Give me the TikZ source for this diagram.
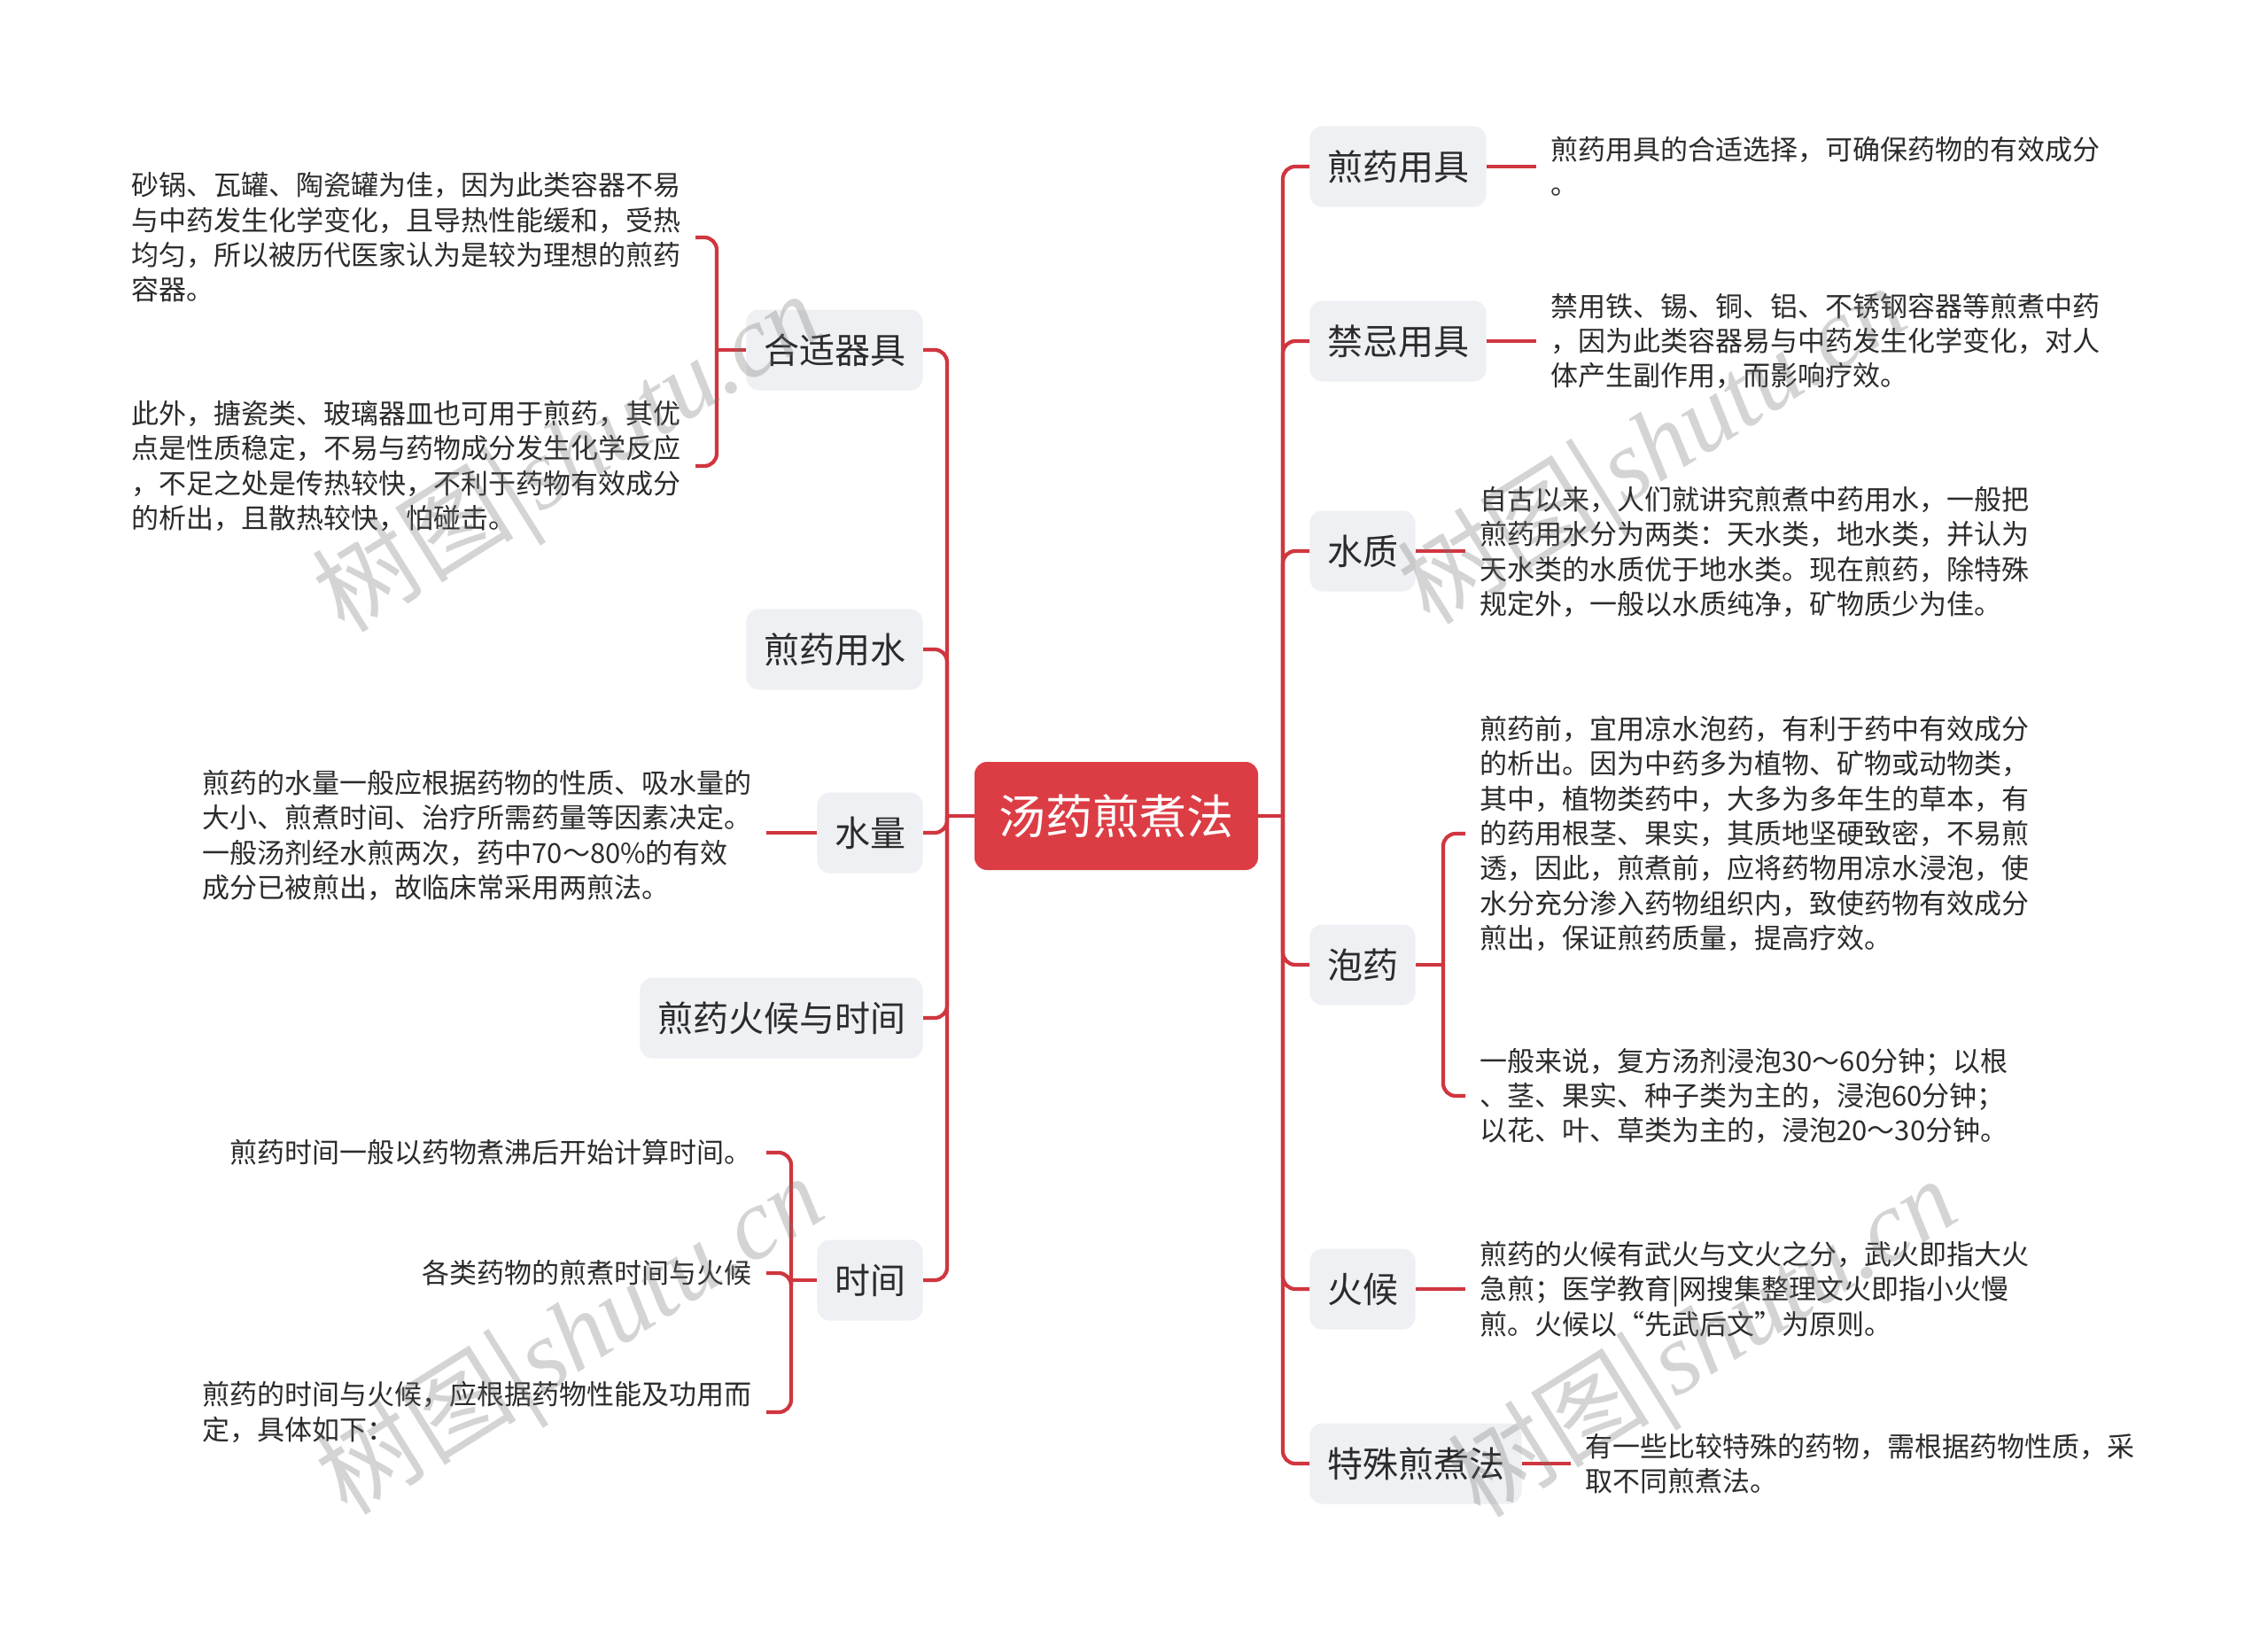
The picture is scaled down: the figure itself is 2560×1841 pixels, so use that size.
\documentclass[tikz,border=0pt]{standalone}
\usepackage{fontspec}
\setmainfont{Noto Sans CJK SC}
\newfontfamily\wmfont{Liberation Serif}
\usetikzlibrary{positioning}
\definecolor{linkred}{HTML}{D0363F}
\definecolor{rootred}{HTML}{DC3D45}
\definecolor{topicgray}{HTML}{EEF0F3}
\definecolor{txtgray}{HTML}{2B2B2B}
\tikzset{
	root/.style={rounded corners=7pt, fill=rootred, text=white, font=\fontsize{26.5pt}{30pt}\selectfont, minimum width=160pt, minimum height=61pt, inner sep=0pt},
	topic/.style={rounded corners=7pt, fill=topicgray, text=txtgray, font=\fontsize{20pt}{24pt}\selectfont, minimum height=45.5pt, inner xsep=9.8pt, inner ysep=0pt},
	leaf/.style={align=left, text=txtgray, font=\fontsize{15.5pt}{19.7pt}\selectfont, inner xsep=8pt, inner ysep=0pt},
	link/.style={draw=linkred, line width=2.1pt, rounded corners=7pt},
	wm/.style={text=black!55, opacity=0.3, rotate=32, font=\fontsize{57pt}{57pt}\selectfont},
}

\begin{document}
\begin{tikzpicture}[x=0.5pt, y=-0.5pt]
	\useasboundingbox[fill=white] (0,0) rectangle (2560,1841);
	\node[root] (root) at (1260,921) {汤药煎煮法};
	\coordinate (lj) at (1069,921);
	\coordinate (rj) at (1448,921);

	% left topics
	\begin{scope}[every node/.style={topic, anchor=east}]
		\node (hsqj) at (1042,395) {合适器具};
		\node (jyys) at (1042,733) {煎药用水};
		\node (sl) at (1042,940) {水量};
		\node (hhsj) at (1042,1149) {煎药火候与时间};
		\node (sj) at (1042,1445) {时间};
	\end{scope}
	% right topics
	\begin{scope}[every node/.style={topic, anchor=west}]
		\node (jyyj) at (1478,188) {煎药用具};
		\node (jjyj) at (1478,385) {禁忌用具};
		\node (sz) at (1478,622) {水质};
		\node (py) at (1478,1089) {泡药};
		\node (hh) at (1478,1455) {火候};
		\node (tsjz) at (1478,1652) {特殊煎煮法};
	\end{scope}

	% left leaves
	\begin{scope}[every node/.style={leaf, anchor=east}]
		\node (hs1) at (785,268) {砂锅、瓦罐、陶瓷罐为佳，因为此类容器不易\\与中药发生化学变化，且导热性能缓和，受热\\均匀，所以被历代医家认为是较为理想的煎药\\容器。};
		\node (hs2) at (785,526) {此外，搪瓷类、玻璃器皿也可用于煎药，其优\\点是性质稳定，不易与药物成分发生化学反应\\，不足之处是传热较快，不利于药物有效成分\\的析出，且散热较快，怕碰击。};
		\node (sl1) at (865,943) {煎药的水量一般应根据药物的性质、吸水量的\\大小、煎煮时间、治疗所需药量等因素决定。\\一般汤剂经水煎两次，药中70～80\%的有效\\成分已被煎出，故临床常采用两煎法。};
		\node (sj1) at (865,1301) {煎药时间一般以药物煮沸后开始计算时间。};
		\node (sj2) at (865,1437) {各类药物的煎煮时间与火候};
		\node (sj3) at (865,1594) {煎药的时间与火候，应根据药物性能及功用而\\定，具体如下：};
	\end{scope}
	% right leaves
	\begin{scope}[every node/.style={leaf, anchor=west}]
		\node (yj1) at (1734,188) {煎药用具的合适选择，可确保药物的有效成分\\。};
		\node (jj1) at (1734,385) {禁用铁、锡、铜、铝、不锈钢容器等煎煮中药\\，因为此类容器易与中药发生化学变化，对人\\体产生副作用，而影响疗效。};
		\node (sz1) at (1654,623) {自古以来，人们就讲究煎煮中药用水，一般把\\煎药用水分为两类：天水类，地水类，并认为\\天水类的水质优于地水类。现在煎药，除特殊\\规定外，一般以水质纯净，矿物质少为佳。};
		\node (py1) at (1654,941) {煎药前，宜用凉水泡药，有利于药中有效成分\\的析出。因为中药多为植物、矿物或动物类，\\其中，植物类药中，大多为多年生的草本，有\\的药用根茎、果实，其质地坚硬致密，不易煎\\透，因此，煎煮前，应将药物用凉水浸泡，使\\水分充分渗入药物组织内，致使药物有效成分\\煎出，保证煎药质量，提高疗效。};
		\node (py2) at (1654,1237) {一般来说，复方汤剂浸泡30～60分钟；以根\\、茎、果实、种子类为主的，浸泡60分钟；\\以花、叶、草类为主的，浸泡20～30分钟。};
		\node (hh1) at (1654,1455) {煎药的火候有武火与文火之分，武火即指大火\\急煎；医学教育|网搜集整理文火即指小火慢\\煎。火候以“先武后文”为原则。};
		\node (ts1) at (1773,1652) {有一些比较特殊的药物，需根据药物性质，采\\取不同煎煮法。};
	\end{scope}

	% root to topics
	\draw[link] (root.west) -- (lj);
	\draw[link] (root.east) -- (rj);
	\foreach \t in {hsqj,jyys,sl,hhsj,sj}
		\draw[link] (lj) |- (\t.east);
	\foreach \t in {jyyj,jjyj,sz,py,hh,tsjz}
		\draw[link] (rj) |- (\t.west);

	% topics to leaves
	\draw[link] (sl.west) -- (sl.west -| sl1.east);
	\draw[link] (jyyj.east) -- (jyyj.east -| yj1.west);
	\draw[link] (jjyj.east) -- (jjyj.east -| jj1.west);
	\draw[link] (sz.east) -- (sz.east -| sz1.west);
	\draw[link] (hh.east) -- (hh.east -| hh1.west);
	\draw[link] (tsjz.east) -- (tsjz.east -| ts1.west);

	\draw[link] (hsqj.west) -- ++(-33,0) coordinate (hsb);
	\draw[link] (hsb) |- (hs1.east);
	\draw[link] (hsb) |- (hs2.east);
	\draw[link] (sj.west) -- ++(-29,0) coordinate (sjb);
	\foreach \l in {sj1,sj2,sj3}
		\draw[link] (sjb) |- (\l.east);
	\draw[link] (py.east) -- ++(31,0) coordinate (pyb);
	\draw[link] (pyb) |- (py1.west);
	\draw[link] (pyb) |- (py2.west);

	% watermarks
	\begin{scope}[every node/.style={wm}]
		\node (wm1) at (645,519) {树图|{\wmfont\itshape shutu.cn}};
		\node (wm2) at (1870,510) {树图|{\wmfont\itshape shutu.cn}};
		\node (wm3) at (648,1515) {树图|{\wmfont\itshape shutu.cn}};
		\node (wm4) at (1927,1518) {树图|{\wmfont\itshape shutu.cn}};
	\end{scope}
\end{tikzpicture}
\end{document}
